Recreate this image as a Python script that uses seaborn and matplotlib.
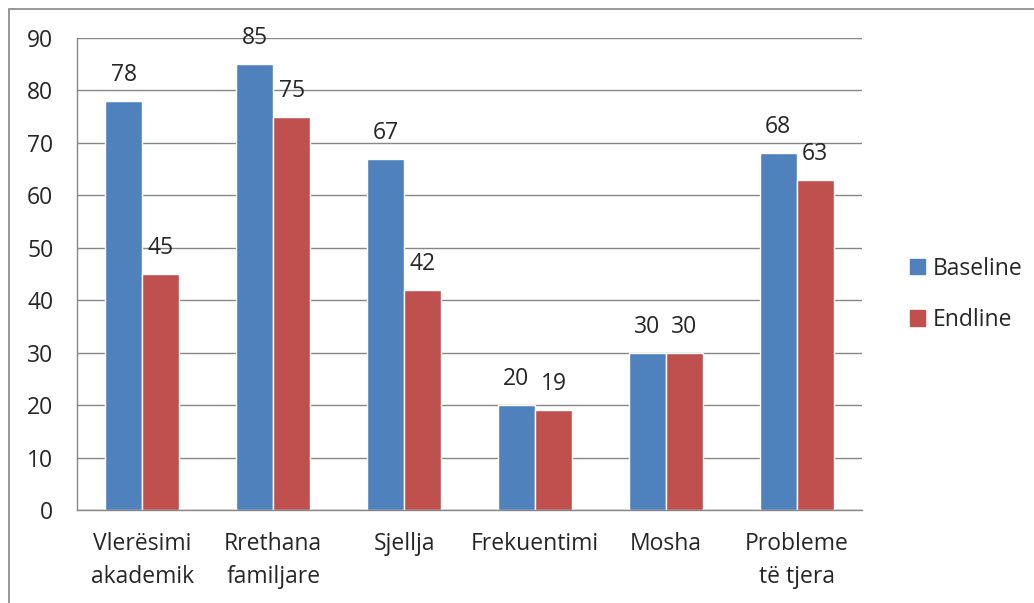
import matplotlib
matplotlib.use('Agg')
import matplotlib.pyplot as plt
import matplotlib.patches as mpatches
import pandas as pd
import seaborn as sns

categories = ['Vlerësimi\nakademik', 'Rrethana\nfamiljare', 'Sjellja',
              'Frekuentimi', 'Mosha', 'Probleme\ntë tjera']
baseline = [78, 85, 67, 20, 30, 68]
endline = [45, 75, 42, 19, 30, 63]
series = ['Baseline', 'Endline']

blue = '#4F81BD'
red = '#C0504D'
grey = '#868686'

df = pd.DataFrame({
    'cat': categories * 2,
    'val': baseline + endline,
    'series': [series[0]] * len(categories) + [series[1]] * len(categories),
})

sns.set_style('white')
plt.rcParams['font.family'] = ['Open Sans', 'DejaVu Sans']
fs = 16.5

fig = plt.figure(figsize=(10.34, 6.03), dpi=100)
ax = fig.add_axes([77/1034, 1 - 510/603, (862-77)/1034, (510-38)/603])

sns.barplot(data=df, x='cat', y='val', hue='series', order=categories,
            hue_order=series, palette=[blue, red], width=0.566,
            saturation=1, ax=ax, legend=False)

for c in ax.containers:
    ax.bar_label(c, padding=10, fontsize=fs)

ax.set_ylim(0, 90)
ax.set_xlim(-0.5, len(categories) - 0.5)
ax.set_yticks(range(0, 91, 10))
ax.yaxis.grid(True, color=grey, lw=1)
ax.set_axisbelow(True)
ax.set_xlabel('')
ax.set_ylabel('')

# category ticks at group boundaries, labels centred
ax.set_xticks(range(len(categories)))
ax.set_xticklabels(categories, fontsize=fs, linespacing=1.5)
ax.tick_params(axis='x', length=0, pad=16)
ax.set_xticks([i - 0.5 for i in range(len(categories) + 1)], minor=True)
ax.tick_params(axis='x', which='minor', length=7, color=grey, width=1, direction='out')
ax.tick_params(axis='y', length=7, color=grey, width=1, direction='out',
               labelsize=fs, pad=10)

for s in ['top', 'right']:
    ax.spines[s].set_visible(False)
for s in ['left', 'bottom']:
    ax.spines[s].set_color(grey)
    ax.spines[s].set_linewidth(1)

handles = [mpatches.Patch(color=blue, label='Baseline'),
           mpatches.Patch(color=red, label='Endline')]
fig.legend(handles=handles, loc='center left', bbox_to_anchor=(0.86, 0.512),
           frameon=False, fontsize=fs, handlelength=0.65, handleheight=0.65,
           handletextpad=0.35, labelspacing=1.2)

fig.patches.append(mpatches.Rectangle((9/1034, -0.1), 1.2, 1 - 9/603 + 0.1,
                                      transform=fig.transFigure, fill=False,
                                      edgecolor=grey, lw=1.2))

fig.savefig('out.png', dpi=100)
